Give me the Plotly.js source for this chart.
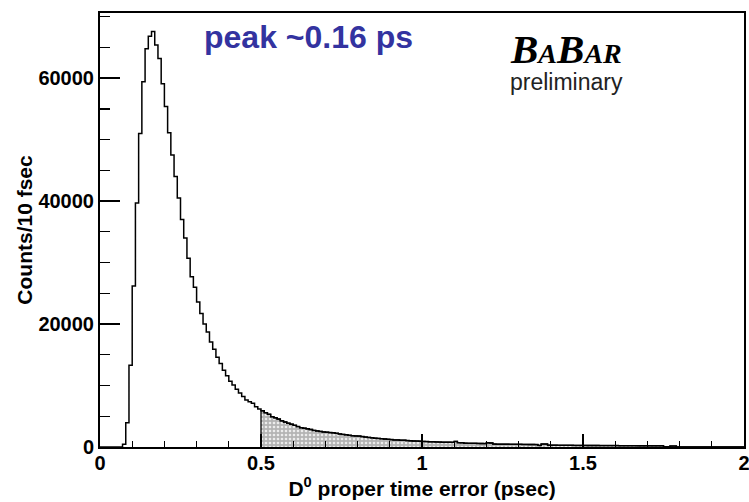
<!DOCTYPE html>
<html>
<head>
<meta charset="utf-8">
<script src="https://cdn.plot.ly/plotly-3.0.1.min.js"></script>
<style>html,body{margin:0;padding:0;background:#fff;}#chart{width:749px;height:502px;}</style>
</head>
<body>
<div id="chart"></div>
<script>
// Histogram definition: bins of 10 fsec (0.01 ps) from 0 to 2 ps
const binStart = 0.0;
const binWidth = 0.01;
const shadeFrom = 0.5;   // shaded region starts here (ps)

// Counts per 10 fsec bin, bins 0.00 .. 1.99
const counts = [
  0, 0, 0, 0, 0, 0, 0, 450, 3950, 13300,                        // 0.00-0.09
  26200, 39700, 51000, 59400, 64800, 66800, 67600, 65400, 63200, 59100, // 0.10-0.19
  55400, 51100, 47500, 44000, 40500, 37000, 34000, 30700, 27700, 26000, // 0.20-0.29
  23600, 21700, 20000, 18700, 17100, 15900, 14600, 13600, 12500, 11600, // 0.30-0.39
  10700, 10100, 9400, 8800, 8200, 7650, 7350, 7100, 6550, 6200,         // 0.40-0.49
  5900, 5580, 5320, 4930, 4750, 4550, 4250, 4070, 3870, 3700,           // 0.50-0.59
  3530, 3320, 3150, 3050, 2950, 2850, 2700, 2620, 2530, 2460,           // 0.60-0.69
  2400, 2340, 2300, 2220, 2120, 2050, 1980, 1900, 1850, 1800,           // 0.70-0.79
  1780, 1700, 1620, 1560, 1500, 1440, 1390, 1350, 1300, 1250,           // 0.80-0.89
  1200, 1150, 1150, 1100, 1100, 1050, 1000, 980, 960, 940,              // 0.90-0.99
  900, 880, 850, 840, 820, 800, 790, 780, 770, 760,                     // 1.00-1.09
  900, 700, 680, 620, 600, 600, 590, 580, 570, 560,                     // 1.10-1.19
  680, 650, 470, 460, 460, 450, 450, 440, 440, 430,                     // 1.20-1.29
  430, 420, 420, 410, 410, 400, 250, 480, 470, 300,                     // 1.30-1.39
  290, 290, 280, 280, 280, 270, 270, 260, 260, 260,                     // 1.40-1.49
  250, 245, 245, 240, 240, 235, 235, 230, 230, 225,                     // 1.50-1.59
  225, 220, 220, 215, 215, 210, 210, 205, 205, 200,                     // 1.60-1.69
  200, 195, 195, 190, 190, 40, 30, 150, 150, 0,                         // 1.70-1.79
  0, 0, 0, 0, 0, 0, 0, 0, 0, 0,                                         // 1.80-1.89
  0, 0, 0, 0, 0, 0, 0, 0, 0, 0                                          // 1.90-1.99
];

const xTickVals = [0, 0.5, 1, 1.5, 2];
const xTickText = ['0', '0.5', '1', '1.5', '2'];
const yTickVals = [0, 20000, 40000, 60000];
const yTickText = ['0', '20000', '40000', '60000'];

// Build step outline: left edges plus final right edge
const edges = counts.map((_, i) => +(binStart + i * binWidth).toFixed(4));
const lastEdge = +(binStart + counts.length * binWidth).toFixed(4);
const stepX = edges.concat([lastEdge]);
const stepY = counts.concat([0]);

// Shaded part (x >= shadeFrom)
const shadeX = [shadeFrom];
const shadeY = [0];
edges.forEach((e, i) => { if (e >= shadeFrom - 1e-9) { shadeX.push(e); shadeY.push(counts[i]); } });
shadeX.push(lastEdge); shadeY.push(0);

const traces = [
  {
    type: 'scatter', mode: 'lines', x: shadeX, y: shadeY,
    line: {shape: 'hv', color: '#000', width: 1.3},
    fill: 'tozeroy', fillcolor: '#c0c0c0',
    fillpattern: {shape: '.', bgcolor: '#b4b4b4', fgcolor: '#ececec', size: 4, solidity: 0.35},
    hoverinfo: 'skip', showlegend: false
  },
  {
    type: 'scatter', mode: 'lines', x: stepX, y: stepY,
    line: {shape: 'hv', color: '#000', width: 1.5},
    showlegend: false
  }
];

const tickFont = {family: 'Liberation Sans, Arial, sans-serif', size: 20, color: '#000', weight: 'bold'};
const titleFont = {family: 'Liberation Sans, Arial, sans-serif', size: 21, color: '#000', weight: 'bold'};

const layout = {
  width: 749, height: 502,
  margin: {l: 100, r: 5, t: 13, b: 55},
  paper_bgcolor: '#fff', plot_bgcolor: '#fff',
  showlegend: false,
  xaxis: {
    range: [0, 2], fixedrange: true,
    tickmode: 'array', tickvals: xTickVals, ticktext: xTickText,
    ticks: 'inside', ticklen: 13, tickwidth: 1.5, tickcolor: '#000',
    minor: {dtick: 0.1, ticks: 'inside', ticklen: 6, tickwidth: 1.2, tickcolor: '#000'},
    showline: true, linecolor: '#000', linewidth: 2, mirror: true,
    showgrid: false, zeroline: false,
    tickfont: tickFont, ticklabeloverflow: 'allow', ticklabelstandoff: -3,
    title: {text: 'D<sup>0</sup> proper time error (psec)', font: titleFont, standoff: 2}
  },
  yaxis: {
    range: [0, 70600], fixedrange: true,
    tickmode: 'array', tickvals: yTickVals, ticktext: yTickText,
    ticks: 'inside', ticklen: 20, tickwidth: 1.5, tickcolor: '#000',
    minor: {dtick: 5000, ticks: 'inside', ticklen: 10, tickwidth: 1.2, tickcolor: '#000'},
    showline: true, linecolor: '#000', linewidth: 2, mirror: true,
    showgrid: false, zeroline: false,
    tickfont: tickFont, ticklabeloverflow: 'allow',
    title: {text: 'Counts/10 fsec', font: titleFont, standoff: 0}
  },
  annotations: [
    {
      xref: 'paper', yref: 'paper', x: 0.3245, y: 0.9447, xanchor: 'center', yanchor: 'middle',
      text: 'peak ~0.16 ps', showarrow: false,
      font: {family: 'Liberation Sans, Arial, sans-serif', size: 32, color: '#3333a0', weight: 'bold'}
    },
    {
      xref: 'paper', yref: 'paper', x: 0.724, y: 0.918, xanchor: 'center', yanchor: 'middle',
      text: '<b><i>B<span style="font-size:28px">A</span>B<span style="font-size:28px">AR</span></i></b>',
      showarrow: false,
      font: {family: 'Liberation Serif, Times New Roman, serif', size: 41, color: '#000'}
    },
    {
      xref: 'paper', yref: 'paper', x: 0.724, y: 0.841, xanchor: 'center', yanchor: 'middle',
      text: 'preliminary', showarrow: false,
      font: {family: 'Liberation Sans, Arial, sans-serif', size: 23, color: '#222'}
    }
  ]
};

Plotly.newPlot('chart', traces, layout, {staticPlot: true, displayModeBar: false});
</script>
</body>
</html>
